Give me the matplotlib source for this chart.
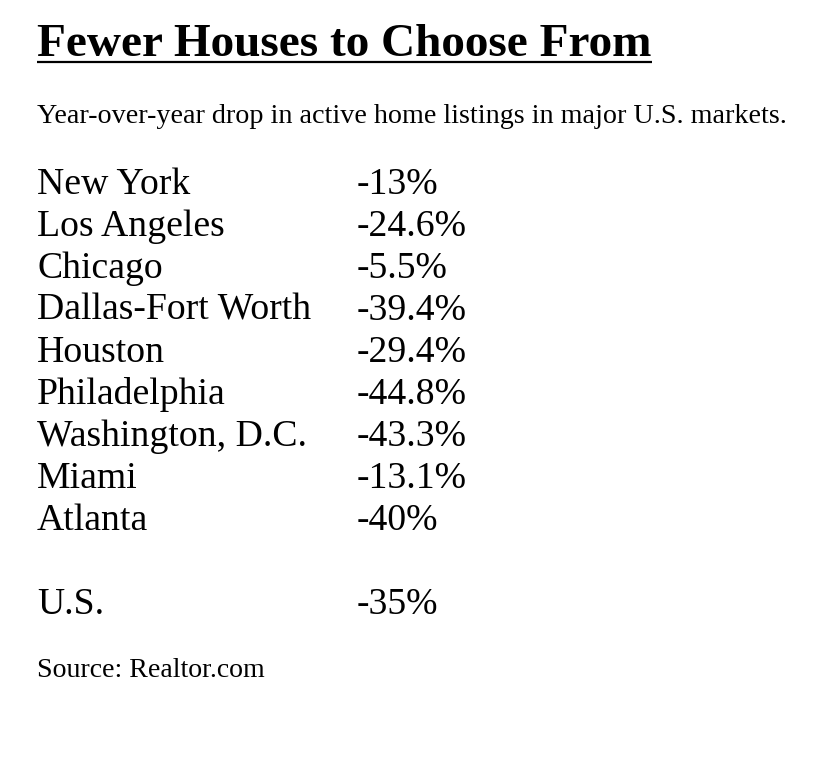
import matplotlib
matplotlib.use('Agg')
import matplotlib.pyplot as plt

title = 'Fewer Houses to Choose From'
subtitle = 'Year-over-year drop in active home listings in major U.S. markets.'
cities = ['New York', 'Los Angeles', 'Chicago', 'Dallas-Fort Worth', 'Houston',
          'Philadelphia', 'Washington, D.C.', 'Miami', 'Atlanta']
changes = ['-13%', '-24.6%', '-5.5%', '-39.4%', '-29.4%', '-44.8%', '-43.3%', '-13.1%', '-40%']
total_label = 'U.S.'
total_change = '-35%'
source = 'Source: Realtor.com'

serif = 'Liberation Serif'

fig = plt.figure(figsize=(8.3, 7.76), dpi=100)
fig.set_facecolor('white')
ax = fig.add_axes([0, 0, 1, 1])
ax.set_xlim(0, 830)
ax.set_ylim(776, 0)
ax.axis('off')
renderer = fig.canvas.get_renderer()


def fit_text(x, y, s, width, **kw):
    # draw text, then rescale its size so it spans the wanted pixel width
    t = ax.text(x, y, s, family=serif, va='baseline', ha='left', fontsize=20, **kw)
    w = t.get_window_extent(renderer).width
    t.set_fontsize(20 * width / w)
    return t


x0 = 37
fit_text(x0, 56, title, 615, weight='bold')
ax.plot([x0, 652], [62, 62], color='black', lw=1.6, solid_capstyle='butt')
fit_text(x0, 123, subtitle, 749)

row_gap = 42
base = 194
ref = fit_text(x0, base + 3 * row_gap, cities[3], 274)
size = ref.get_fontsize()
for i, (city, val) in enumerate(zip(cities, changes)):
    y = base + i * row_gap
    if i != 3:
        ax.text(x0, y, city, family=serif, fontsize=size, va='baseline')
    ax.text(357, y, val, family=serif, fontsize=size, va='baseline')

y_tot = base + 10 * row_gap
ax.text(x0, y_tot, total_label, family=serif, fontsize=size, va='baseline')
ax.text(357, y_tot, total_change, family=serif, fontsize=size, va='baseline')

fit_text(x0, 677, source, 228)

fig.savefig('out.png', dpi=100, facecolor='white')
